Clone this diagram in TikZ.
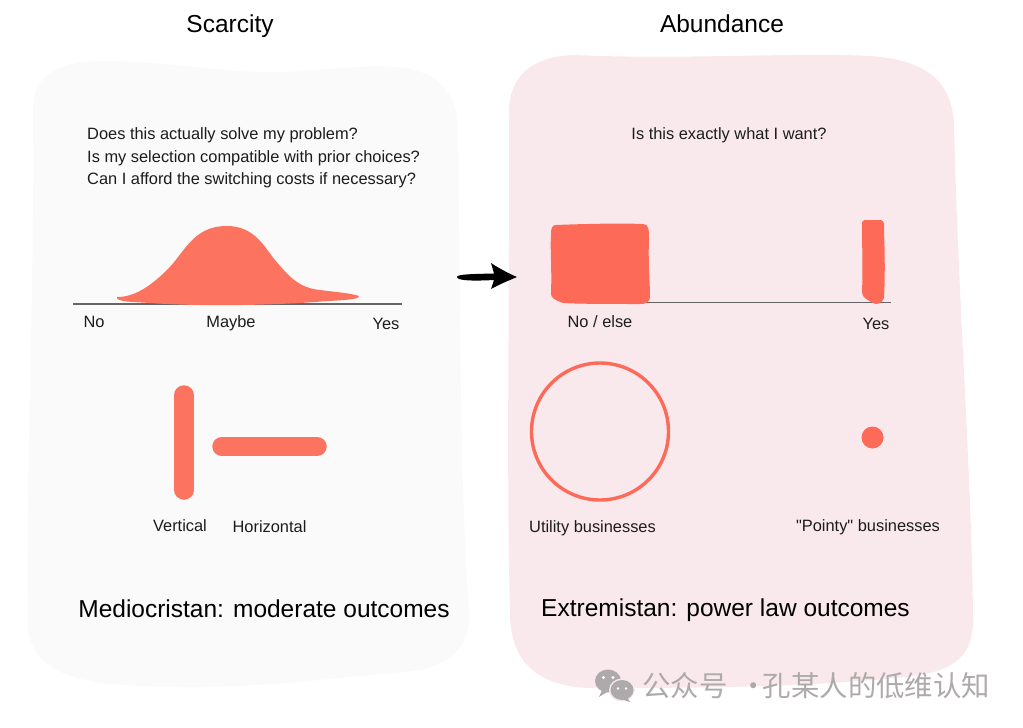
\documentclass[tikz,border=0pt]{standalone}
\usepackage{fontspec}
\setmainfont{Liberation Sans}
\newfontfamily\plainf{Liberation Sans}
\newfontfamily\cjk{Noto Sans CJK SC}
\definecolor{ink}{HTML}{1C1C1C}
\definecolor{coral}{HTML}{FD6A58}
\definecolor{coralb}{HTML}{FC7460}
\definecolor{panelL}{HTML}{FAFAFA}
\definecolor{panelR}{HTML}{F9E9EC}
\definecolor{wm}{HTML}{AEA9AB}
\newcommand{\fs}[1]{\fontsize{#1}{#1}\selectfont}
\tikzset{
  lbl/.style={text=ink,font=\fs{16.4},inner sep=0pt,anchor=center},
  ttl/.style={text=black,font=\fs{24.5},inner sep=0pt,anchor=center},
  big/.style={text=black,font=\fs{24.5},inner sep=0pt,anchor=center},
  axis/.style={draw=black!60,line width=1.1pt},
  capsule/.style={draw=coralb,line width=19.5pt,line cap=round},
}
\begin{document}
\begin{tikzpicture}[x=1pt,y=-1pt]
\useasboundingbox (0,0) rectangle (1023,728);
\fill[white] (0,0) rectangle (1023,728);
% panels
\fill[panelL] (33,110) .. controls (33,80) and (50,66) .. (85,62)
  .. controls (150,58) and (210,72) .. (270,72)
  .. controls (320,72) and (360,64) .. (395,67)
  .. controls (435,70) and (457,90) .. (458,130)
  .. controls (460,300) and (460,500) .. (469,610)
  .. controls (472,650) and (445,668) .. (405,672)
  .. controls (330,678) and (260,688) .. (180,687)
  .. controls (90,686) and (32,680) .. (28,625)
  .. controls (26,450) and (35,280) .. (33,110) -- cycle;
\fill[panelR] (509,115) .. controls (508,78) and (530,56) .. (575,55)
  .. controls (680,60) and (800,52) .. (870,56)
  .. controls (925,60) and (952,80) .. (954,125)
  .. controls (958,300) and (972,480) .. (973,620)
  .. controls (973,660) and (950,672) .. (905,677)
  .. controls (800,688) and (680,688) .. (590,688)
  .. controls (535,686) and (511,660) .. (510,615)
  .. controls (506,450) and (510,280) .. (509,115) -- cycle;
% titles
\node[ttl] (tS) at (230,26) {Scarcity};
\node[ttl] (tA) at (722,24) {Abundance};
% questions
\node[lbl,anchor=west] (q1) at (87,135) {Does this actually solve my problem?};
\node[lbl,anchor=west] (q2) at (87,158) {Is my selection compatible with prior choices?};
\node[lbl,anchor=west] (q3) at (87,180) {Can I afford the switching costs if necessary?};
\node[lbl] (q4) at (729,135.5) {Is this exactly what I want?};
% left axis and bell
\draw[axis] (73,304) -- (402,304);
\fill[coralb] (117,297) .. controls (135,297) and (150,286) .. (165,272)
  .. controls (185,253) and (192,226) .. (227,226)
  .. controls (255,226) and (265,248) .. (275,260)
  .. controls (290,278) and (300,288) .. (320,290)
  .. controls (335,292) and (350,293) .. (359,296)
  .. controls (360,300) and (340,300) .. (315,302)
  .. controls (260,306) and (190,306) .. (150,303)
  .. controls (135,302) and (115,302) .. (117,297) -- cycle;
\node[lbl] (no) at (94,321.5) {No};
\node[lbl] (maybe) at (231,323.5) {Maybe};
\node[lbl] (yes) at (386,323.5) {Yes};
% arrow
\coordinate (arrA) at (457,277);
\coordinate (arrB) at (517,277);
\fill[black] (arrA) .. controls (457,274) and (475,274) .. (494,273.5)
  -- (491,263) .. controls (500,269) and (510,274) .. (arrB)
  .. controls (510,280) and (500,284) .. (491,289) -- (494,280)
  .. controls (475,281) and (457,281) .. (arrA) -- cycle;
% right axis and blocks
\draw[axis] (640,302.5) -- (891,302.5);
\fill[coral] (556,225) .. controls (580,224) and (620,223) .. (643,224)
  .. controls (649,224) and (649,230) .. (649,240)
  .. controls (648,260) and (650,285) .. (650,296)
  .. controls (650,303) and (645,304) .. (640,304)
  .. controls (610,304) and (580,304) .. (563,303)
  .. controls (555,300) and (550,298) .. (551,292)
  .. controls (552,270) and (550,250) .. (551,235)
  .. controls (551,228) and (552,225) .. (556,225) -- cycle;
\fill[coral] (865,220) -- (881,220) .. controls (885,221) and (884,226) .. (884,232)
  .. controls (885,255) and (885,280) .. (884,298)
  .. controls (882,304) and (876,305) .. (873,303)
  .. controls (868,300) and (862,298) .. (862,292)
  .. controls (863,270) and (862,245) .. (862,225)
  .. controls (862,221) and (863,220) .. (865,220) -- cycle;
\node[lbl] (noelse) at (600,321.5) {No / else};
\node[lbl] (yesr) at (876,323.5) {Yes};
% capsules
\draw[capsule] (184,395) -- (184,490);
\draw[capsule] (222,446.5) -- (317,446.5);
\node[lbl] (vert) at (180,525.5) {Vertical};
\node[lbl] (horiz) at (269.5,527) {Horizontal};
% circles
\draw[coral,line width=3.4pt] (600,431.5) circle[radius=68.5];
\fill[coral] (872.5,437.5) circle[radius=11];
\node[lbl] (util) at (592.5,528.5) {Utility businesses};
\node[lbl,font=\plainf\fs{16.4}] (pointy) at (868,527.5) {"Pointy" businesses};
% outcomes
\node[big] (med) at (264,609) {Mediocristan: moderate outcomes};
\node[big] (ext) at (725.5,610) {Extremistan: power law outcomes};
% watermark
\fill[wm] (608,681) ellipse[x radius=13,y radius=11.5];
\fill[wm] (602,690) -- (599,697) -- (607,692) -- cycle;
\fill[panelR] (622,690) ellipse[x radius=13,y radius=11.5];
\fill[wm] (622,690) ellipse[x radius=11.5,y radius=10];
\fill[wm] (627,697) -- (630,702) -- (621,699) -- cycle;
\fill[white] (603.5,677.5) circle[radius=1.6] (613,677.5) circle[radius=1.6] (618,688.5) circle[radius=1.3] (626,688.5) circle[radius=1.3];
\node[text=wm,font=\cjk\fs{28.4},inner sep=0pt,anchor=west] (wmt) at (642,686) {公众号\hspace{12pt}·\hspace{-5pt}孔某人的低维认知};
\end{tikzpicture}
\end{document}
